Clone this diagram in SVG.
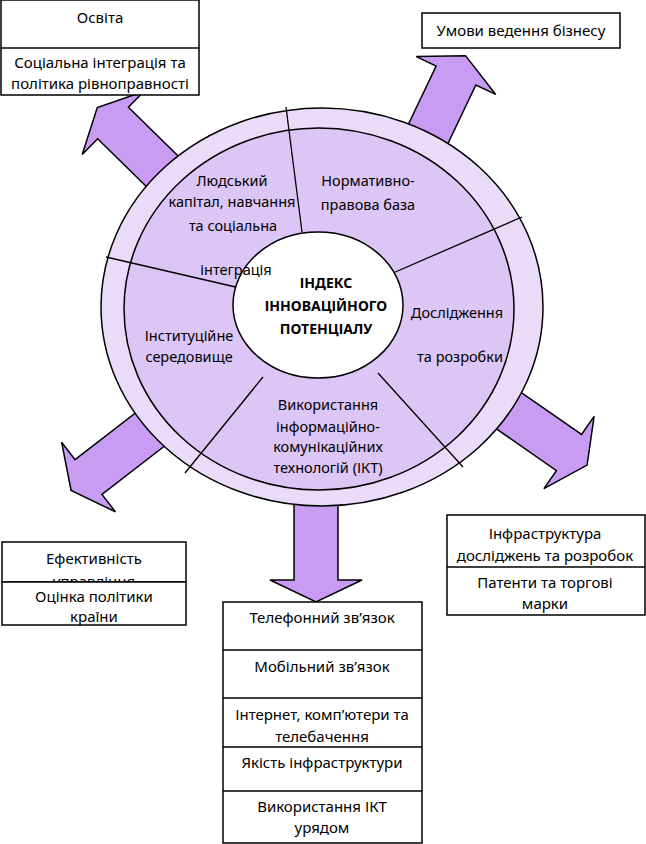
<svg xmlns="http://www.w3.org/2000/svg" width="646" height="844" viewBox="0 0 646 844">
<defs>
<style>
.arrow{fill:#C89CF3;stroke:#000;stroke-width:1.5;stroke-linejoin:miter}
.box{fill:#fff;stroke:#000;stroke-width:1.5}
.t{font-family:"Noto Sans","Open Sans","DejaVu Sans",sans-serif;font-size:15px;fill:#000;text-anchor:middle}
.s{font-size:14.5px}
.b{font-weight:bold;font-size:14px}
.ln{stroke:#000;stroke-width:1.3;fill:none}
</style>
<path id="arr" d="M -100,-22 L 0,-22 L 0,-44 L 22,0 L 0,44 L 0,22 L -100,22 Z"/>
<clipPath id="govclip"><rect x="2" y="542" width="184" height="40"/></clipPath>
</defs>
<rect width="646" height="844" fill="#fff"/>

<g id="connectors">
<use href="#arr" class="arrow" transform="translate(113,123) rotate(224.4)"/>
<use href="#arr" class="arrow" transform="translate(456,75.5) rotate(-64.5)"/>
<use href="#arr" class="arrow" transform="translate(569,452.5) rotate(34.8)"/>
<use href="#arr" class="arrow" transform="translate(88.5,477) rotate(142.3)"/>
<path class="arrow" d="M 294,480 L 338,480 L 338,580 L 362,580 L 316,602 L 270,580 L 294,580 Z"/>
</g>

<g id="wheel">
<ellipse cx="322" cy="307" rx="221" ry="199" fill="#EADCF9" stroke="#000" stroke-width="1.5"/>
<ellipse cx="319" cy="309" rx="195" ry="181" fill="#DCC6F6" stroke="#000" stroke-width="1.5"/>
<line class="ln" x1="302" y1="232" x2="286" y2="107"/>
<line class="ln" x1="393" y1="273" x2="522" y2="217"/>
<line class="ln" x1="378" y1="373" x2="463" y2="467"/>
<line class="ln" x1="263" y1="377" x2="185" y2="473"/>
<line class="ln" x1="240" y1="288" x2="106" y2="257"/>
<ellipse cx="318" cy="305" rx="85" ry="73" fill="#fff" stroke="#000" stroke-width="1.5"/>
</g>

<g id="sector-human">
<text class="t s" x="232" y="186">Людський</text>
<text class="t s" x="232" y="207">капітал, навчання</text>
<text class="t s" x="233" y="231">та соціальна</text>
<text class="t s" x="236" y="275">інтеграція</text>
</g>
<g id="sector-legal">
<text class="t s" x="368" y="186">Нормативно-</text>
<text class="t s" x="368" y="210">правова база</text>
</g>
<g id="sector-rd">
<text class="t s" x="457" y="318">Дослідження</text>
<text class="t s" x="460" y="362">та розробки</text>
</g>
<g id="sector-inst">
<text class="t s" x="189" y="341">Інституційне</text>
<text class="t s" x="189" y="362">середовище</text>
</g>
<g id="sector-ict">
<text class="t s" x="328" y="410">Використання</text>
<text class="t s" x="328" y="432">інформаційно-</text>
<text class="t s" x="328" y="452">комунікаційних</text>
<text class="t s" x="328" y="473">технологій (ІКТ)</text>
</g>
<g id="center">
<text class="t b" x="326" y="288">ІНДЕКС</text>
<text class="t b" x="326" y="311">ІННОВАЦІЙНОГО</text>
<text class="t b" x="326" y="334">ПОТЕНЦІАЛУ</text>
</g>

<g id="box-education">
<rect class="box" x="1" y="0" width="198" height="95"/>
<line class="ln" x1="1" y1="48" x2="199" y2="48"/>
<text class="t" x="100" y="23">Освіта</text>
<text class="t" x="100" y="68">Соціальна інтеграція та</text>
<text class="t" x="100" y="89">політика рівноправності</text>
</g>

<g id="box-business">
<rect class="box" x="422" y="13" width="198" height="35"/>
<text class="t" x="521" y="36">Умови ведення бізнесу</text>
</g>

<g id="box-governance">
<rect class="box" x="2" y="542" width="184" height="40"/>
<text class="t" x="94" y="564">Ефективність</text>
<text class="t" x="94" y="587" clip-path="url(#govclip)">управління</text>
<rect class="box" x="2" y="582" width="184" height="43"/>
<text class="t" x="94" y="602">Оцінка політики</text>
<text class="t" x="94" y="622">країни</text>
</g>

<g id="box-rd">
<rect class="box" x="447" y="515" width="198" height="100"/>
<line class="ln" x1="447" y1="567" x2="645" y2="567"/>
<text class="t" x="545" y="539">Інфраструктура</text>
<text class="t" x="545" y="561">досліджень та розробок</text>
<text class="t" x="545" y="588">Патенти та торгові</text>
<text class="t" x="545" y="609">марки</text>
</g>

<g id="box-ict">
<rect class="box" x="223" y="602" width="199" height="241"/>
<line class="ln" x1="223" y1="650" x2="422" y2="650"/>
<line class="ln" x1="223" y1="698" x2="422" y2="698"/>
<line class="ln" x1="223" y1="747" x2="422" y2="747"/>
<line class="ln" x1="223" y1="791" x2="422" y2="791"/>
<text class="t" x="322" y="623">Телефонний зв’язок</text>
<text class="t" x="322" y="672">Мобільний зв’язок</text>
<text class="t" x="322" y="720">Інтернет, комп’ютери та</text>
<text class="t" x="322" y="742">телебачення</text>
<text class="t" x="322" y="768">Якість інфраструктури</text>
<text class="t" x="322" y="812">Використання ІКТ</text>
<text class="t" x="322" y="833">урядом</text>
</g>
</svg>
